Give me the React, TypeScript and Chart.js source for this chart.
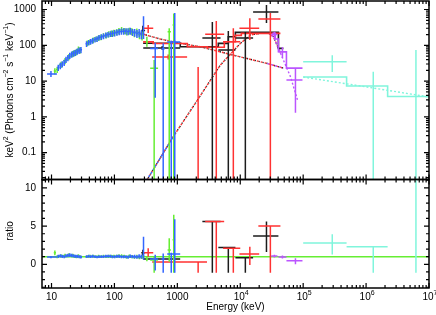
import React, { useEffect, useRef } from "react";
import { Chart, registerables } from "chart.js";
Chart.register(...registerables);

// ---------------- axis ranges ----------------
const X_MIN = 7.06;
const X_MAX = 1e7;
const Y_MIN = 0.0178;
const Y_MAX = 1730;
const R_MIN = -3.1;
const R_MAX = 11.1;

// ---------------- NaI (blue) dense points ----------------
const blueE = [12.8, 13.8, 14.8, 15.9, 17.0, 18.2, 19.5, 20.9, 22.4, 24.0, 25.7, 27.5, 29.4,
  36, 39, 42, 45, 49, 53, 57, 62, 67, 73, 79, 86, 93, 101, 110, 119, 129, 140, 152, 165, 179, 194, 210, 228, 247, 268];
const blueF = [24, 27, 30, 33, 40, 45, 52, 56, 60, 63, 68, 72, 75,
  110, 120, 128, 135, 145, 152, 165, 172, 180, 192, 200, 208, 215, 222, 232, 238, 245, 248, 250, 245, 252, 235, 230, 215, 225, 205];
const blueErr = [0.2, 0.2, 0.2, 0.2, 0.2, 0.2, 0.2, 0.2, 0.2, 0.2, 0.2, 0.2, 0.2,
  0.18, 0.18, 0.18, 0.18, 0.18, 0.18, 0.18, 0.18, 0.18, 0.18, 0.18, 0.18, 0.2, 0.2, 0.2, 0.2, 0.2, 0.2, 0.2, 0.22, 0.22, 0.22, 0.24, 0.25, 0.26, 0.28];
const blueR = [1.05, 1.1, 1.05, 1.0, 1.1, 1.15, 1.2, 1.15, 1.1, 1.05, 1.05, 1.0, 0.95,
  1.0, 1.05, 1.0, 1.05, 1.0, 0.95, 1.0, 1.0, 1.0, 1.05, 1.05, 1.05, 1.0, 1.0, 1.05, 1.05, 1.0, 1.0, 1.0, 0.95, 1.05, 1.0, 1.0, 0.95, 1.05, 1.0];

// blue sparse points
const blueXE = [9.8, 290, 445, 596, 800, 910];
const blueXElo = [8.5, 280, 370, 560, 690, 880];
const blueXEhi = [12.2, 300, 494, 630, 1110, 940];
const blueXF = [15.8, 210, 82, 80, 123, 130];
const blueXFlo = [13, 150, 3.4, 0.001, 0.001, 0.001];
const blueXFhi = [19, 650, 116, 115, 135, 800];
const blueXR = [0.95, 1.2, 0.7, 0.7, 1.35, 1.3];
const blueXRlo = [0.8, 0.6, -0.8, -1.1, -1.1, -1.1];
const blueXRhi = [1.1, 3.6, 1.25, 1.4, 1.5, 5.9];

// ---------------- NaI (green) dense points ----------------
const greenE = [11.3, 12.3, 14.2, 16.4, 18.9, 21.7, 23.2, 25.0, 26.8, 28.6,
  37, 41, 46, 51, 56, 61, 67, 74, 81, 89, 98, 108, 118, 130, 143, 157, 172, 189, 207, 227, 250, 275];
const greenF = [19, 21, 29, 37, 48, 58, 62, 66, 77, 74,
  115, 125, 140, 150, 162, 170, 185, 190, 205, 215, 225, 235, 255, 270, 255, 240, 255, 245, 220, 235, 200, 190];
const greenErr = [0.2, 0.2, 0.2, 0.2, 0.2, 0.2, 0.2, 0.2, 0.2, 0.2,
  0.18, 0.18, 0.18, 0.18, 0.18, 0.18, 0.18, 0.18, 0.2, 0.2, 0.2, 0.2, 0.2, 0.2, 0.2, 0.22, 0.22, 0.22, 0.24, 0.25, 0.26, 0.28];
const greenR = [1.5, 1.0, 1.1, 1.15, 1.2, 1.15, 1.05, 1.0, 1.1, 1.0,
  1.0, 1.05, 1.05, 1.0, 1.05, 1.0, 1.05, 1.0, 1.05, 1.05, 1.05, 1.05, 1.1, 1.1, 1.05, 0.95, 1.05, 1.0, 0.95, 1.0, 0.9, 0.95];

// green sparse points
const greenXE = [328, 428, 743, 877];
const greenXElo = [315, 370, 700, 840];
const greenXEhi = [342, 494, 790, 920];
const greenXF = [126, 23, 240, 370];
const greenXFlo = [91, 0.001, 0.001, 0.001];
const greenXFhi = [174, 39, 300, 780];
const greenXR = [0.7, 0.55, 1.87, 3.2];
const greenXRlo = [0.4, -1.1, 0.35, -1.1];
const greenXRhi = [1.0, 1.0, 3.4, 6.5];

// ---------------- BGO (red) ----------------
const redE = [344, 716, 2140, 4160, 7760, 14200, 30100];
const redElo = [287, 398, 1430, 2770, 5330, 9700, 19400];
const redEhi = [414, 1430, 2960, 5550, 10000, 20000, 43500];
const redF = [300, 47, 0.005, 205, 125, 300, 540];
const redFlo = [220, 40, 0.001, 0.001, 0.001, 140, 0.001];
const redFhi = [370, 55, 24.6, 480, 300, 570, 800];
const redR = [1.5, 0.3, 0.3, 5.6, 2.1, 1.35, 5.0];
const redRlo = [1.0, 0.2, -1.1, -1.1, -1.1, -0.1, -1.1];
const redRhi = [2.1, 0.4, 0.3, 5.6, 2.1, 2.3, 5.0];

// ---------------- BGO (black) ----------------
const blackE = [283, 575, 3600, 6460, 12050, 26100];
const blackElo = [267, 287, 2500, 4480, 8380, 16000];
const blackEhi = [307, 1110, 4860, 8380, 16000, 40400];
const blackF = [260, 84, 160, 74, 160, 850];
const blackFlo = [210, 75, 0.001, 0.001, 0.001, 420];
const blackFhi = [350, 95, 450, 250, 235, 1340];
const blackR = [1.5, 0.7, 5.6, 2.2, 0.87, 3.7];
const blackRlo = [1.0, 0.6, -1.1, -1.1, -1.1, 1.6];
const blackRhi = [1.9, 0.8, 5.6, 2.2, 0.9, 5.6];

// ---------------- LLE (purple) ----------------
const purpleE = [34900, 46800, 75400];
const purpleElo = [31000, 40400, 54200];
const purpleEhi = [39000, 54200, 97500];
const purpleF = [200, 66, 10.8];
const purpleFlo = [160, 45, 1.3];
const purpleFhi = [240, 90, 23];
const purpleR = [1.08, 0.95, 0.47];
const purpleRlo = [0.9, 0.75, 0.0];
const purpleRhi = [1.25, 1.15, 0.8];

// ---------------- LAT (cyan) ----------------
const cyanE = [2.9e5, 1.3e6, 6.2e6];
const cyanElo = [1.0e5, 4.9e5, 6.2e6];
const cyanEhi = [4.9e5, 2.2e6, 6.2e6];
const cyanF: (number | null)[] = [34.6, null, null];
const cyanFlo = [18, 0.001, 0.001];
const cyanFhi = [53, 18.3, 74];
const cyanR: (number | null)[] = [2.8, 2.3, null];
const cyanRlo = [1.3, -1.1, -1.1];
const cyanRhi = [3.95, 2.35, 20];

// ---------------- folded model steps ----------------
const blackStepE = [286, 1112, 4480, 6460, 8360, 40400, 48500];
const blackStepF = [114, 91, 113, 174, 230, 82];
const redStepE = [286, 413, 1440, 2990, 5580, 8360, 10400, 43500];
const redStepF = [125, 112, 91, 88, 126, 190, 216];
const purpleStepE = [32400, 36000, 40400, 54200, 97500];
const purpleStepF = [216, 150, 66, 23];
const cyanStepE = [1e5, 4.9e5, 2.2e6, 1e7];
const cyanStepF = [13, 7.3, 3.7];

// ---------------- model components (dotted) ----------------
const compAE = [332, 860, 2075, 4820, 10040, 14490, 20900, 28000, 33650, 43500, 62800, 81100];
const compAF = [0.0178, 0.28, 2.9, 28, 113, 194, 216, 220, 174, 61, 13.3, 3];
const compBE = [256, 534, 1112, 2317, 7762, 27000, 48500];
const compBF = [216, 150, 114, 91, 53, 31, 23];
const compCE = [1e5, 1e6, 1e7];
const compCF = [13, 6.9, 3.6];

// ---------------- styling ----------------
const C_BLACK = "#1c1c1c";
const C_RED = "#ff3232";
const C_GREEN = "#66ee33";
const C_BLUE = "#3366ff";
const C_PURPLE = "#bb55ff";
const C_CYAN = "#80f5dc";
const FONT = '"Liberation Sans", Arial, Helvetica, sans-serif';

type P = { x: number; y: number | null };

function crosses(E: number[], lo: number[], hi: number[], v: (number | null)[], vlo: number[], vhi: number[]): P[] {
  const pts: P[] = [];
  for (let i = 0; i < E.length; i++) {
    const c = v[i];
    if (c !== null && lo[i] < hi[i]) {
      pts.push({ x: lo[i], y: c }, { x: hi[i], y: c }, { x: hi[i], y: null });
    }
    pts.push({ x: E[i], y: vlo[i] }, { x: E[i], y: vhi[i] }, { x: E[i], y: null });
  }
  return pts;
}

function denseEdges(E: number[]): [number[], number[]] {
  const lo: number[] = [];
  const hi: number[] = [];
  for (let i = 0; i < E.length; i++) {
    const prev = i > 0 ? E[i - 1] : 0;
    const next = i < E.length - 1 ? E[i + 1] : 0;
    lo.push(prev && E[i] / prev < 1.18 ? Math.sqrt(E[i] * prev) : E[i] / 1.04);
    hi.push(next && next / E[i] < 1.18 ? Math.sqrt(E[i] * next) : E[i] * 1.04);
  }
  return [lo, hi];
}

function steps(edges: number[], vals: number[]): P[] {
  return edges.map((e, i) => ({ x: e, y: vals[Math.min(i, vals.length - 1)] }));
}

function curve(E: number[], F: number[]): P[] {
  return E.map((e, i) => ({ x: e, y: F[i] }));
}

function ds(data: P[], color: string, opts: any = {}) {
  return {
    type: "line",
    data,
    borderColor: color,
    backgroundColor: color,
    borderWidth: 1.5,
    pointRadius: 0,
    pointHoverRadius: 0,
    fill: false,
    spanGaps: false,
    tension: 0,
    ...opts,
  };
}

function drawRich(ctx: CanvasRenderingContext2D, parts: [string, boolean][], cx: number, cy: number, rotate: boolean) {
  ctx.save();
  ctx.translate(cx, cy);
  if (rotate) ctx.rotate(-Math.PI / 2);
  let total = 0;
  const widths = parts.map(([t, sup]) => {
    ctx.font = `${sup ? 7 : 10}px ${FONT}`;
    const w = ctx.measureText(t).width;
    total += w;
    return w;
  });
  let x = -total / 2;
  ctx.textBaseline = "middle";
  ctx.textAlign = "left";
  ctx.fillStyle = "#000";
  parts.forEach(([t, sup], i) => {
    ctx.font = `${sup ? 7 : 10}px ${FONT}`;
    ctx.fillText(t, x, sup ? -3.5 : 0);
    x += widths[i];
  });
  ctx.restore();
}

function xTicks(ctx: CanvasRenderingContext2D, xs: any, a: any) {
  for (let d = 0; d <= 7; d++) {
    for (let m = 1; m <= 9; m++) {
      const v = m * Math.pow(10, d);
      if (v < X_MIN || v > X_MAX * 1.0001) continue;
      const px = xs.getPixelForValue(v);
      const len = m === 1 ? 5 : 3;
      ctx.moveTo(px, a.top);
      ctx.lineTo(px, a.top + len);
      ctx.moveTo(px, a.bottom);
      ctx.lineTo(px, a.bottom - len);
    }
  }
}

const topPlugin = {
  id: "topFrame",
  afterDraw(chart: any) {
    const { ctx, chartArea: a, scales } = chart;
    const xs = scales.x;
    const ys = scales.y;
    ctx.save();
    ctx.strokeStyle = "#000";
    ctx.lineWidth = 1.2;
    ctx.beginPath();
    xTicks(ctx, xs, a);
    for (let d = -2; d <= 3; d++) {
      for (let m = 1; m <= 9; m++) {
        const v = m * Math.pow(10, d);
        if (v < Y_MIN || v > Y_MAX) continue;
        const py = ys.getPixelForValue(v);
        const len = m === 1 ? 5 : 3;
        ctx.moveTo(a.left, py);
        ctx.lineTo(a.left + len, py);
        ctx.moveTo(a.right, py);
        ctx.lineTo(a.right - len, py);
      }
    }
    ctx.stroke();
    ctx.lineWidth = 1.5;
    ctx.strokeRect(a.left, a.top, a.right - a.left, a.bottom - a.top);
    ctx.fillStyle = "#000";
    ctx.font = `10px ${FONT}`;
    ctx.textAlign = "right";
    ctx.textBaseline = "middle";
    const labs: [number, string][] = [[0.1, "0.1"], [1, "1"], [10, "10"], [100, "100"], [1000, "1000"]];
    labs.forEach(([v, t]) => ctx.fillText(t, 36, ys.getPixelForValue(v)));
    ctx.restore();
    drawRich(ctx, [["keV", false], ["2", true], [" (Photons cm", false], ["\u22122", true], [" s", false], ["\u22121", true], [" keV", false], ["\u22121", true], [")", false]], 10, 90, true);
  },
};

const botPlugin = {
  id: "botFrame",
  afterDraw(chart: any) {
    const { ctx, chartArea: a, scales } = chart;
    const xs = scales.x;
    const ys = scales.y;
    ctx.save();
    ctx.strokeStyle = "#000";
    ctx.lineWidth = 1.2;
    ctx.beginPath();
    xTicks(ctx, xs, a);
    for (let v = -3; v <= 11; v++) {
      const py = ys.getPixelForValue(v);
      const len = v % 5 === 0 ? 5 : 3;
      ctx.moveTo(a.left, py);
      ctx.lineTo(a.left + len, py);
      ctx.moveTo(a.right, py);
      ctx.lineTo(a.right - len, py);
    }
    ctx.stroke();
    ctx.lineWidth = 1.5;
    ctx.strokeRect(a.left, a.top, a.right - a.left, a.bottom - a.top);
    ctx.fillStyle = "#000";
    ctx.font = `10px ${FONT}`;
    ctx.textAlign = "right";
    ctx.textBaseline = "middle";
    [0, 5, 10].forEach((v) => ctx.fillText(String(v), 36, ys.getPixelForValue(v)));
    // x labels
    const ly = 297;
    for (let d = 1; d <= 7; d++) {
      const px = xs.getPixelForValue(Math.pow(10, d));
      ctx.font = `10px ${FONT}`;
      if (d <= 3) {
        ctx.textAlign = "center";
        ctx.fillText(String(Math.pow(10, d)), px, ly);
      } else {
        const wBase = ctx.measureText("10").width;
        ctx.font = `7px ${FONT}`;
        const wSup = ctx.measureText(String(d)).width;
        const start = px - (wBase + wSup) / 2 + 1;
        ctx.textAlign = "left";
        ctx.font = `10px ${FONT}`;
        ctx.fillText("10", start, ly);
        ctx.font = `7px ${FONT}`;
        ctx.fillText(String(d), start + wBase, ly - 3.5);
      }
    }
    ctx.font = `10px ${FONT}`;
    ctx.textAlign = "center";
    ctx.fillText("Energy (keV)", (a.left + a.right) / 2, 307);
    ctx.restore();
    drawRich(ctx, [["ratio", false]], 10, 231, true);
  },
};

function baseOptions(padTop: number, padBottom: number, yScale: any) {
  return {
    animation: false,
    responsive: false,
    maintainAspectRatio: false,
    devicePixelRatio: 1,
    layout: { padding: { left: 42, right: 7, top: padTop, bottom: padBottom } },
    plugins: { legend: { display: false }, tooltip: { enabled: false }, title: { display: false } },
    events: [],
    scales: {
      x: { type: "logarithmic", min: X_MIN, max: X_MAX, display: false },
      y: yScale,
    },
  };
}

function topConfig(): any {
  const [bLo, bHi] = denseEdges(blueE);
  const [gLo, gHi] = denseEdges(greenE);
  const dot = { borderDash: [2, 2], borderWidth: 1.4 };
  const list = [
    ds(curve(compAE.slice(0, 10), compAF.slice(0, 10)), C_RED, dot),
    ds(curve(compAE.slice(0, 10), compAF.slice(0, 10)), C_BLACK, { ...dot, borderDash: [1, 3], borderDashOffset: 2 }),
    ds(curve(compAE.slice(0, 2), compAF.slice(0, 2)), C_BLUE, { ...dot, borderDashOffset: 1 }),
    ds(curve(compAE.slice(7), compAF.slice(7)), C_PURPLE, dot),
    ds(curve(compBE, compBF), C_RED, dot),
    ds(curve(compBE, compBF), C_BLACK, { ...dot, borderDash: [1, 3], borderDashOffset: 2 }),
    ds(curve(compBE.slice(5), compBF.slice(5)), C_PURPLE, dot),
    ds(curve(compCE, compCF), C_CYAN, dot),
    ds(steps(blackStepE, blackStepF), C_BLACK, { stepped: "before", borderWidth: 1.6 }),
    ds(steps(redStepE, redStepF), C_RED, { stepped: "before", borderWidth: 1.6 }),
    ds(steps(purpleStepE, purpleStepF), C_PURPLE, { stepped: "before", borderWidth: 1.6 }),
    ds(steps(cyanStepE, cyanStepF), C_CYAN, { stepped: "before", borderWidth: 1.6 }),
    ds(crosses(blackE, blackElo, blackEhi, blackF, blackFlo, blackFhi), C_BLACK),
    ds(crosses(redE, redElo, redEhi, redF, redFlo, redFhi), C_RED),
    ds(crosses(greenE, gLo, gHi, greenF, greenF.map((f, i) => f * (1 - greenErr[i])), greenF.map((f, i) => f * (1 + greenErr[i]))), C_GREEN),
    ds(crosses(greenXE, greenXElo, greenXEhi, greenXF, greenXFlo, greenXFhi), C_GREEN),
    ds(crosses(blueE, bLo, bHi, blueF, blueF.map((f, i) => f * (1 - blueErr[i])), blueF.map((f, i) => f * (1 + blueErr[i]))), C_BLUE),
    ds(crosses(blueXE, blueXElo, blueXEhi, blueXF, blueXFlo, blueXFhi), C_BLUE),
    ds(crosses(purpleE, purpleElo, purpleEhi, purpleF, purpleFlo, purpleFhi), C_PURPLE),
    ds(crosses(cyanE, cyanElo, cyanEhi, cyanF, cyanFlo, cyanFhi), C_CYAN),
  ];
  return {
    type: "line",
    data: { datasets: list.reverse() },
    options: baseOptions(1, 315 - 179.5, { type: "logarithmic", min: Y_MIN, max: Y_MAX, display: false }),
    plugins: [topPlugin],
  };
}

function botConfig(): any {
  const [bLo, bHi] = denseEdges(blueE);
  const [gLo, gHi] = denseEdges(greenE);
  const list = [
    ds([{ x: X_MIN, y: 1 }, { x: X_MAX, y: 1 }], C_GREEN),
    ds(crosses(blackE, blackElo, blackEhi, blackR, blackRlo, blackRhi), C_BLACK),
    ds(crosses(redE, redElo, redEhi, redR, redRlo, redRhi), C_RED),
    ds(crosses(greenE, gLo, gHi, greenR, greenR.map((r, i) => r * (1 - greenErr[i])), greenR.map((r, i) => r * (1 + greenErr[i]))), C_GREEN),
    ds(crosses(greenXE, greenXElo, greenXEhi, greenXR, greenXRlo, greenXRhi), C_GREEN),
    ds(crosses(blueE, bLo, bHi, blueR, blueR.map((r, i) => r * (1 - blueErr[i])), blueR.map((r, i) => r * (1 + blueErr[i]))), C_BLUE),
    ds(crosses(blueXE, blueXElo, blueXEhi, blueXR, blueXRlo, blueXRhi), C_BLUE),
    ds(crosses(purpleE, purpleElo, purpleEhi, purpleR, purpleRlo, purpleRhi), C_PURPLE),
    ds(crosses(cyanE, cyanElo, cyanEhi, cyanR, cyanRlo, cyanRhi), C_CYAN),
  ];
  return {
    type: "line",
    data: { datasets: list.reverse() },
    options: baseOptions(179.5, 315 - 288, { type: "linear", min: R_MIN, max: R_MAX, display: false }),
    plugins: [botPlugin],
  };
}

export default function App() {
  const topRef = useRef<HTMLCanvasElement>(null);
  const botRef = useRef<HTMLCanvasElement>(null);
  useEffect(() => {
    const t = new Chart(topRef.current as HTMLCanvasElement, topConfig());
    const b = new Chart(botRef.current as HTMLCanvasElement, botConfig());
    return () => {
      t.destroy();
      b.destroy();
    };
  }, []);
  return (
    <div style={{ position: "fixed", left: 0, top: 0, width: 436, height: 315, background: "#fff" }}>
      <canvas ref={topRef} width={436} height={315} style={{ position: "absolute", left: 0, top: 0 }} />
      <canvas ref={botRef} width={436} height={315} style={{ position: "absolute", left: 0, top: 0 }} />
    </div>
  );
}
